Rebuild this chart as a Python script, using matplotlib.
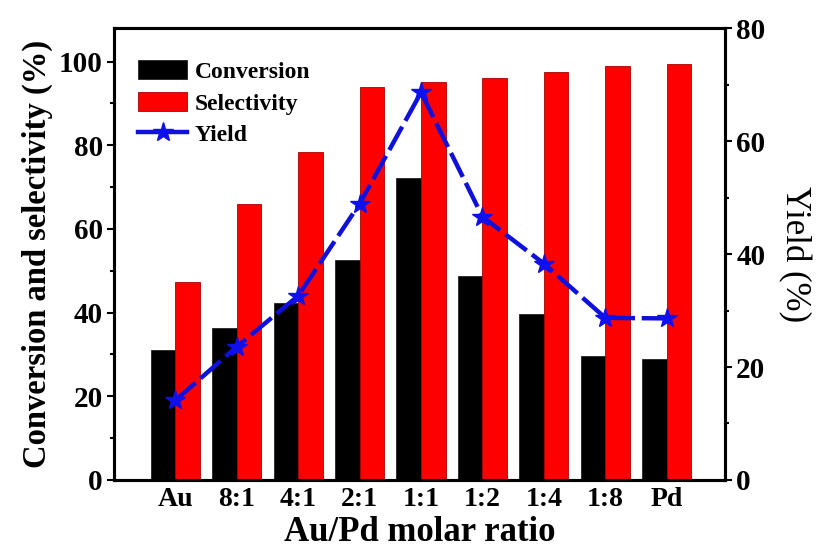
import numpy as np
import matplotlib.pyplot as plt
from matplotlib.lines import Line2D

plt.rcParams['font.family'] = ['Liberation Serif', 'DejaVu Serif']
plt.rcParams['font.weight'] = 'bold'

ratios = ['Au', '8:1', '4:1', '2:1', '1:1', '1:2', '1:4', '1:8', 'Pd']
conversion = [31.0, 36.3, 42.2, 52.6, 72.2, 48.8, 39.6, 29.6, 28.9]
selectivity = [47.2, 65.9, 78.3, 93.8, 95.2, 96.0, 97.6, 98.9, 99.5]
yield_ = [14.1, 23.6, 32.6, 48.9, 68.6, 46.6, 38.3, 28.7, 28.6]

x = np.arange(len(ratios))
w = 0.4

fig = plt.figure(figsize=(8.23, 5.56), dpi=100)
ax = fig.add_axes([0.1385, 0.1367, 0.7425, 0.8129])
ax.bar(x - w/2, conversion, w, color='black', edgecolor='#222222', linewidth=0.6, label='Conversion')
ax.bar(x + w/2, selectivity, w, color='#ff0000', edgecolor='#aa0000', linewidth=0.6, label='Selectivity')
ax.set_xlim(-1.0, 8.95)
ax.set_ylim(0, 108)
ax.set_yticks(np.arange(0, 101, 20))
ax.set_yticks(np.arange(10, 101, 20), minor=True)
ax.set_xticks(x)
ax.set_xticklabels(ratios)
ax.tick_params(axis='x', length=0, labelsize=20, pad=5)
ax.tick_params(axis='y', which='major', direction='out', length=5, width=1.5, labelsize=21, pad=3)
ax.tick_params(axis='y', which='minor', direction='out', length=3, width=1.5)
ax.set_xlabel('Au/Pd molar ratio', fontsize=25, fontweight='bold', labelpad=3)
ax.set_ylabel('Conversion and selectivity (%)', fontsize=23.5, fontweight='bold', labelpad=4)

ax2 = ax.twinx()
ax2.plot(x, yield_, color='#1010dd', linewidth=3.2, dashes=(6, 1.5), marker='*',
         markersize=15, markerfacecolor='#1010ee', markeredgecolor='#1010ee', label='Yield')
ax2.set_ylim(0, 80)
ax2.set_yticks(np.arange(0, 81, 20))
ax2.set_yticks(np.arange(10, 81, 20), minor=True)
ax2.tick_params(axis='y', which='major', direction='out', length=5, width=1.5, labelsize=21, pad=3)
ax2.tick_params(axis='y', which='minor', direction='out', length=3, width=1.5)
ax2.set_ylabel('Yield (%)', fontsize=25, fontweight='normal', rotation=270, labelpad=33)

for a in (ax, ax2):
    for s in a.spines.values():
        s.set_linewidth(2.2)

h1, l1 = ax.get_legend_handles_labels()
yield_handle = Line2D([], [], color='#1010dd', linewidth=3.2, marker='*', markersize=15,
                      markerfacecolor='#1010ee', markeredgecolor='#1010ee')
leg = ax.legend(h1 + [yield_handle], l1 + ['Yield'], loc='upper left', bbox_to_anchor=(0.012, 0.965),
                frameon=False, prop={'size': 17, 'weight': 'bold'}, handlelength=2.1, handleheight=0.85,
                labelspacing=0.38, handletextpad=0.3, borderaxespad=0.3)
leg.set_zorder(5)

fig.savefig('out.png', dpi=100)
